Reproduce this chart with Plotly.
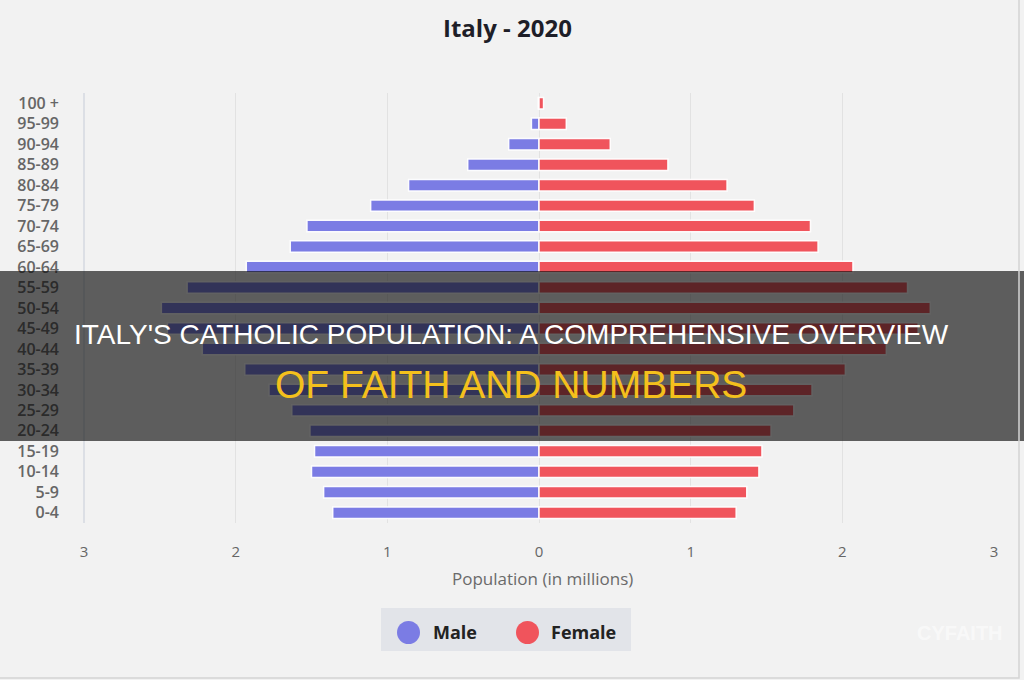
import plotly.graph_objects as go

# ---- data ----
age_groups = ["100 +", "95-99", "90-94", "85-89", "80-84", "75-79", "70-74", "65-69",
              "60-64", "55-59", "50-54", "45-49", "40-44", "35-39", "30-34", "25-29",
              "20-24", "15-19", "10-14", "5-9", "0-4"]
male = [0.005, 0.05, 0.20, 0.47, 0.86, 1.11, 1.53, 1.64, 1.93, 2.32, 2.49, 2.45, 2.22,
        1.94, 1.78, 1.63, 1.51, 1.48, 1.50, 1.42, 1.36]
female = [0.03, 0.18, 0.47, 0.85, 1.24, 1.42, 1.79, 1.84, 2.07, 2.43, 2.58, 2.50, 2.29,
          2.02, 1.80, 1.68, 1.53, 1.47, 1.45, 1.37, 1.30]
x_ticks = [-3, -2, -1, 0, 1, 2, 3]
x_tick_labels = ["3", "2", "1", "0", "1", "2", "3"]

MALE_C = "#7b7ce4"
FEMALE_C = "#f0545c"
W, H = 1024, 680
L, R, T, B = 84, 30, 93, 157
PW, PH = W - L - R, H - T - B


def px(x):
    return (x - L) / PW


def py(y):
    return (H - B - y) / PH


fig = go.Figure()
fig.add_trace(go.Bar(y=age_groups, x=[-v for v in male], orientation="h", name="Male",
                     marker=dict(color=MALE_C, line=dict(color="rgba(255,255,255,0.95)", width=1.5)),
                     width=0.56, showlegend=False))
fig.add_trace(go.Bar(y=age_groups, x=female, orientation="h", name="Female",
                     marker=dict(color=FEMALE_C, line=dict(color="rgba(255,255,255,0.95)", width=1.5)),
                     width=0.56, showlegend=False))

shapes = []
annotations = []

# left axis line at -3 and faint right line at 3
shapes.append(dict(type="line", xref="paper", yref="paper", x0=0, x1=0, y0=0, y1=1,
                   line=dict(color="#d5d9e0", width=1.5), layer="below"))

# custom legend
shapes.append(dict(type="rect", xref="paper", yref="paper", x0=px(381), x1=px(631), y0=py(651), y1=py(608),
                   fillcolor="#e2e4e9", line=dict(width=0), layer="below"))
shapes.append(dict(type="circle", xref="paper", yref="paper", x0=px(397), x1=px(420), y0=py(644), y1=py(621),
                   fillcolor=MALE_C, line=dict(width=0)))
shapes.append(dict(type="circle", xref="paper", yref="paper", x0=px(516), x1=px(539), y0=py(644), y1=py(621),
                   fillcolor=FEMALE_C, line=dict(width=0)))
annotations.append(dict(text="<b>Male</b>", xref="paper", yref="paper", x=px(431), y=py(632),
                        xanchor="left", yanchor="middle", showarrow=False,
                        font=dict(family="Open Sans", size=18, color="#222")))
annotations.append(dict(text="<b>Female</b>", xref="paper", yref="paper", x=px(549), y=py(632),
                        xanchor="left", yanchor="middle", showarrow=False,
                        font=dict(family="Open Sans", size=18, color="#222")))

# axis title
annotations.append(dict(text="Population (in millions)", xref="paper", yref="paper", x=px(542), y=py(578),
                        xanchor="center", yanchor="middle", showarrow=False,
                        font=dict(family="Open Sans", size=17, color="#6a6a6a")))

# chart title
annotations.append(dict(text="<b>Italy - 2020</b>", xref="paper", yref="paper", x=px(507), y=py(28),
                        xanchor="center", yanchor="middle", showarrow=False,
                        font=dict(family="Open Sans", size=24, color="#1e1e28")))

# dark overlay band
shapes.append(dict(type="rect", xref="paper", yref="paper", x0=px(0), x1=px(W), y0=py(441), y1=py(271),
                   fillcolor="rgba(10,10,10,0.64)", line=dict(width=0), layer="above"))
annotations.append(dict(text="ITALY'S CATHOLIC POPULATION: A COMPREHENSIVE OVERVIEW", xref="paper", yref="paper",
                        x=px(511), y=py(334), xanchor="center", yanchor="middle", showarrow=False,
                        font=dict(family="Liberation Sans, Arial", size=28, color="#ffffff")))
annotations.append(dict(text="OF FAITH AND NUMBERS", xref="paper", yref="paper",
                        x=px(511), y=py(384), xanchor="center", yanchor="middle", showarrow=False,
                        font=dict(family="Liberation Sans, Arial", size=39, color="#f4c01c")))

# watermark
annotations.append(dict(text="<b>CYFAITH</b>", xref="paper", yref="paper", x=px(960), y=py(633),
                        xanchor="center", yanchor="middle", showarrow=False,
                        font=dict(family="Liberation Sans", size=20, color="rgba(255,255,255,0.55)")))

# frame edge
shapes.append(dict(type="rect", xref="paper", yref="paper", x0=px(-2), x1=px(1019), y0=py(678), y1=py(-2),
                   fillcolor="rgba(0,0,0,0)", line=dict(color="#d4d4d4", width=1.5), layer="above"))

fig.update_layout(
    width=W, height=H,
    margin=dict(l=L, r=R, t=T, b=B, pad=0),
    paper_bgcolor="#f2f2f2", plot_bgcolor="#f2f2f2",
    barmode="overlay", bargap=0.5,
    shapes=shapes, annotations=annotations,
    showlegend=False,
    xaxis=dict(range=[-3, 3], tickvals=x_ticks, ticktext=x_tick_labels,
               showgrid=True, gridcolor="#e2e2e2", gridwidth=1, zeroline=False,
               showline=False, ticks="", ticklabelstandoff=18,
               tickfont=dict(family="Open Sans", size=15, color="#666"), fixedrange=True),
    yaxis=dict(categoryorder="array", categoryarray=age_groups, autorange="reversed",
               showgrid=False, zeroline=False, showline=False, ticks="",
               ticklabelstandoff=24,
               tickfont=dict(family="Open Sans SemiBold, Open Sans", size=16, color="#666"), fixedrange=True),
)

fig.write_html("out.html")
